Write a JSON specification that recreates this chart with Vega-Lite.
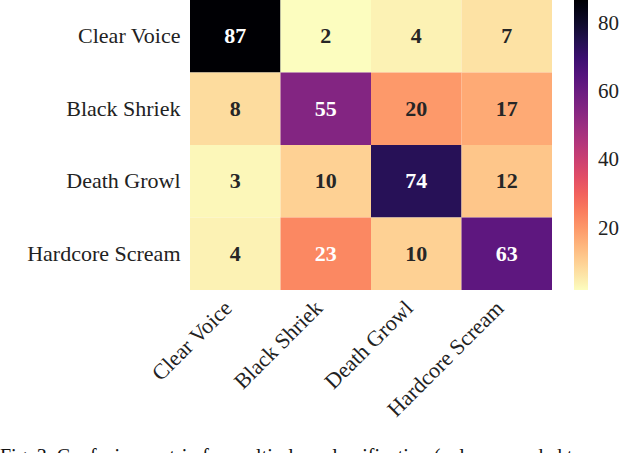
{
  "$schema": "https://vega.github.io/schema/vega-lite/v6.json",
  "autosize": "none",
  "width": 362,
  "height": 290,
  "padding": {"left": 190, "top": 0, "right": 88, "bottom": 163},
  "background": "white",
  "config": {
    "view": {"stroke": null},
    "font": "Liberation Serif"
  },
  "title": {
    "text": "Fig. 3. Confusion matrix for multi-class classification (values rounded to",
    "orient": "bottom",
    "anchor": "start",
    "frame": "group",
    "dx": -190,
    "offset": 27,
    "font": "Liberation Serif",
    "fontSize": 20,
    "fontWeight": "normal",
    "color": "#111111"
  },
  "data": {
    "values": [
      {"actual": "Clear Voice", "predicted": "Clear Voice", "v": 87},
      {"actual": "Clear Voice", "predicted": "Black Shriek", "v": 2},
      {"actual": "Clear Voice", "predicted": "Death Growl", "v": 4},
      {"actual": "Clear Voice", "predicted": "Hardcore Scream", "v": 7},
      {"actual": "Black Shriek", "predicted": "Clear Voice", "v": 8},
      {"actual": "Black Shriek", "predicted": "Black Shriek", "v": 55},
      {"actual": "Black Shriek", "predicted": "Death Growl", "v": 20},
      {"actual": "Black Shriek", "predicted": "Hardcore Scream", "v": 17},
      {"actual": "Death Growl", "predicted": "Clear Voice", "v": 3},
      {"actual": "Death Growl", "predicted": "Black Shriek", "v": 10},
      {"actual": "Death Growl", "predicted": "Death Growl", "v": 74},
      {"actual": "Death Growl", "predicted": "Hardcore Scream", "v": 12},
      {"actual": "Hardcore Scream", "predicted": "Clear Voice", "v": 4},
      {"actual": "Hardcore Scream", "predicted": "Black Shriek", "v": 23},
      {"actual": "Hardcore Scream", "predicted": "Death Growl", "v": 10},
      {"actual": "Hardcore Scream", "predicted": "Hardcore Scream", "v": 63}
    ]
  },
  "encoding": {
    "x": {
      "field": "predicted",
      "type": "nominal",
      "sort": ["Clear Voice", "Black Shriek", "Death Growl", "Hardcore Scream"],
      "scale": {"paddingInner": 0, "paddingOuter": 0},
      "axis": {
        "title": null,
        "domain": false,
        "ticks": false,
        "labelAngle": -45,
        "labelFont": "Liberation Serif",
        "labelFontSize": 22,
        "labelColor": "#222222",
        "labelPadding": 7,
        "labelOffset": -14,
        "labelAlign": "right",
        "labelBaseline": "top"
      }
    },
    "y": {
      "field": "actual",
      "type": "nominal",
      "sort": ["Clear Voice", "Black Shriek", "Death Growl", "Hardcore Scream"],
      "scale": {"paddingInner": 0, "paddingOuter": 0},
      "axis": {
        "title": null,
        "domain": false,
        "ticks": false,
        "labelFont": "Liberation Serif",
        "labelFontSize": 22,
        "labelColor": "#222222",
        "labelPadding": 10
      }
    }
  },
  "layer": [
    {
      "mark": {"type": "rect"},
      "encoding": {
        "color": {
          "field": "v",
          "type": "quantitative",
          "scale": {"scheme": "magma", "reverse": true, "domain": [2, 87]},
          "legend": {
            "title": null,
            "orient": "none",
            "legendX": 384,
            "legendY": 0,
            "direction": "vertical",
            "gradientLength": 290,
            "gradientThickness": 14,
            "gradientStrokeWidth": 0,
            "values": [20, 40, 60, 80],
            "labelFont": "Liberation Serif",
            "labelFontSize": 21,
            "labelColor": "#222222",
            "labelOffset": 10
          }
        }
      }
    },
    {
      "mark": {"type": "text", "font": "Liberation Serif", "fontSize": 22, "fontWeight": "bold"},
      "encoding": {
        "text": {"field": "v", "type": "quantitative"},
        "color": {
          "condition": {"test": "datum.v > 21", "value": "white"},
          "value": "#262626"
        }
      }
    }
  ]
}
